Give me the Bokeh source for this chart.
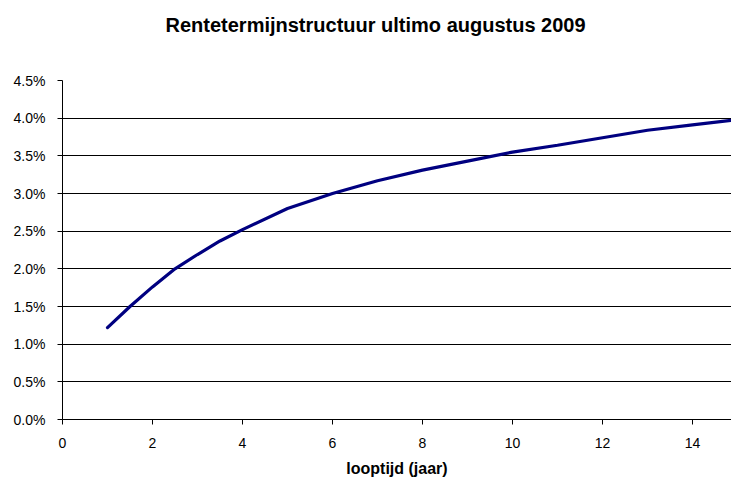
from bokeh.plotting import figure
from bokeh.models import Range1d, FixedTicker, NumeralTickFormatter, Title
from bokeh.embed import file_html
from bokeh.resources import INLINE

title_text = "Rentetermijnstructuur ultimo augustus 2009"
x_label = "looptijd (jaar)"

looptijd = [1, 1.5, 2, 2.5, 3, 3.5, 4, 5, 6, 7, 8, 9, 10, 11, 12, 13, 14, 15]
rente_pct = [1.22, 1.50, 1.76, 2.00, 2.19, 2.37, 2.52, 2.80, 3.00, 3.17, 3.31,
             3.43, 3.55, 3.64, 3.74, 3.84, 3.91, 3.98]
rente = [v / 100.0 for v in rente_pct]

x_ticks = [0, 2, 4, 6, 8, 10, 12, 14]
y_ticks = [0.0, 0.005, 0.01, 0.015, 0.02, 0.025, 0.03, 0.035, 0.04, 0.045]

FONT = "Liberation Sans"

p = figure(width=731, height=480, output_backend="svg", toolbar_location=None,
           x_range=Range1d(0, 669 / 45.0), y_range=Range1d(0, 0.045),
           min_border_left=62, min_border_right=0, min_border_top=80,
           min_border_bottom=61, title=None)
p.outline_line_color = None
p.background_fill_color = "white"
p.border_fill_color = "white"

# spacer between the frame and the title
p.add_layout(Title(text=" ", text_font=FONT, text_font_size="1px", standoff=42), "above")
p.add_layout(Title(text=title_text, align="left", offset=103, standoff=0,
                   vertical_align="bottom", text_font=FONT, text_font_size="20px",
                   text_font_style="bold", text_color="black"), "above")

p.line(looptijd, rente, line_color="#000080", line_width=3.2, line_cap="round")

p.xgrid.visible = False
p.ygrid.ticker = FixedTicker(ticks=y_ticks)
p.ygrid.grid_line_color = "black"
p.ygrid.grid_line_width = 1

p.yaxis.ticker = FixedTicker(ticks=y_ticks)
p.yaxis.formatter = NumeralTickFormatter(format="0.0%")
p.xaxis.ticker = FixedTicker(ticks=x_ticks)

for ax in (p.xaxis[0], p.yaxis[0]):
    ax.axis_line_color = "black"
    ax.axis_line_width = 1
    ax.major_tick_line_color = "black"
    ax.major_tick_in = 0
    ax.major_tick_out = 5
    ax.minor_tick_line_color = None
    ax.major_label_text_font = FONT
    ax.major_label_text_font_size = "14px"
    ax.major_label_text_color = "black"

p.yaxis.major_label_standoff = 12
p.xaxis.major_label_standoff = 13

p.xaxis.axis_label = x_label
p.xaxis.axis_label_text_font = FONT
p.xaxis.axis_label_text_font_size = "16px"
p.xaxis.axis_label_text_font_style = "bold"
p.xaxis.axis_label_text_color = "black"
p.xaxis.axis_label_standoff = 9

open("out.html", "w").write(file_html(p, INLINE))
